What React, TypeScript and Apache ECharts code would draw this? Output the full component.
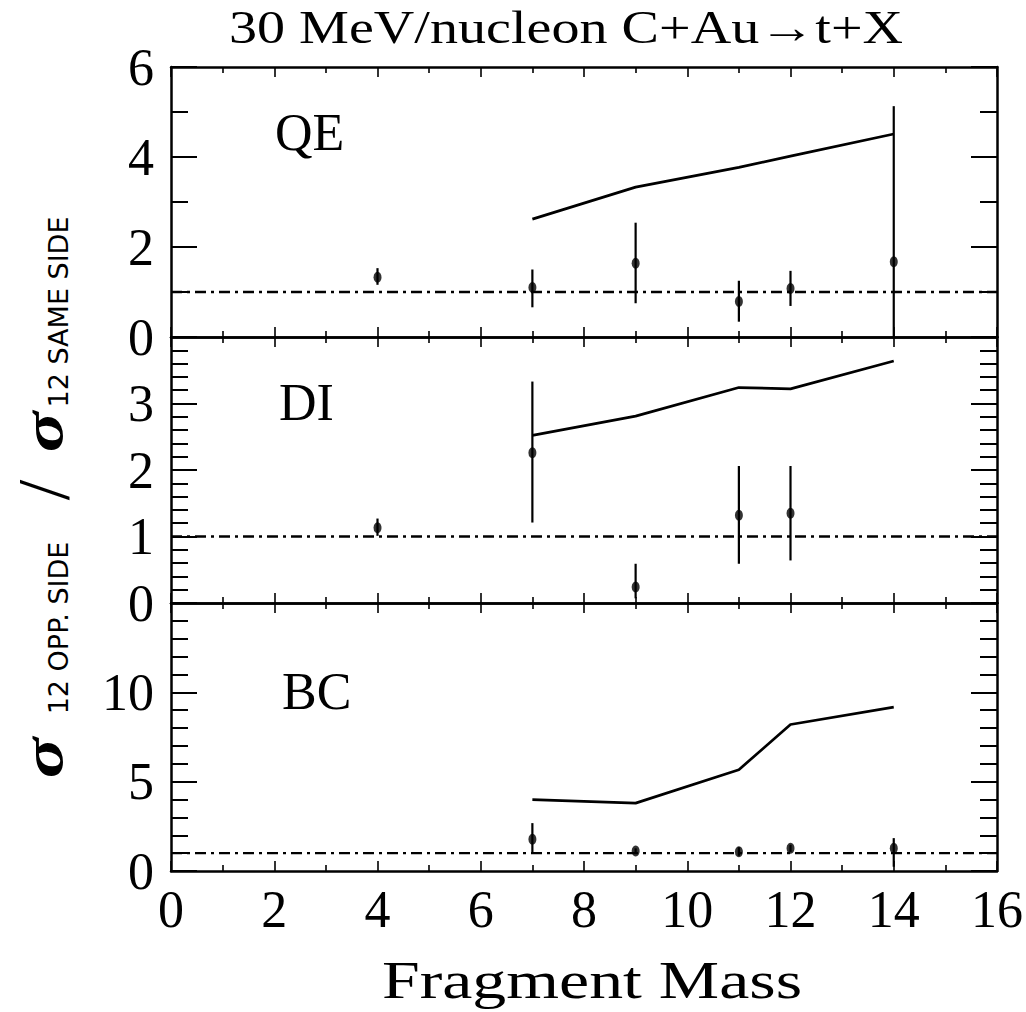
import React, { useEffect, useRef } from 'react';
import * as echarts from 'echarts';

// ---------- data ----------
const massRange = [0, 16];
const refMass = [0, 16];
const refRatio = [1, 1];

const qeMass = [4, 7, 9, 11, 12, 14];
const qeRatio = [1.33, 1.1, 1.64, 0.79, 1.08, 1.67];
const qeLow = [1.16, 0.66, 0.75, 0.34, 0.69, 0.0];
const qeHigh = [1.53, 1.5, 2.54, 1.25, 1.47, 5.13];

const diMass = [4, 7, 9, 11, 12];
const diRatio = [1.13, 2.26, 0.24, 1.32, 1.35];
const diLow = [1.01, 1.21, 0.07, 0.59, 0.64];
const diHigh = [1.27, 3.33, 0.59, 2.06, 2.06];

const bcMass = [7, 9, 11, 12, 14];
const bcRatio = [1.78, 1.12, 1.08, 1.27, 1.27];
const bcLow = [0.99, 0.97, 0.85, 1.07, 0.24];
const bcHigh = [2.68, 1.27, 1.33, 1.47, 1.84];

const theoryMass = [7, 9, 11, 12, 14];
const qeTheory = [2.62, 3.33, 3.77, 4.02, 4.51];
const diTheory = [2.52, 2.81, 3.24, 3.22, 3.64];
const bcTheory = [3.99, 3.8, 5.67, 8.2, 9.17];

const panelNames = ['QE', 'DI', 'BC'];
const panelYMax = [6, 4, 15];
const panelYInterval = [2, 1, 5];
const panelYMinorSplit = [2, 5, 5];
const panelShowMaxLabel = [true, false, false];
const xInterval = 2;
const xMinorSplit = 2;

const titleText = '30 MeV/nucleon C+Au\u2192t+X';
const xTitle = 'Fragment Mass';
const sigma = '\u03C3';
const oppSub = '12 OPP. SIDE';
const sameSub = '12 SAME SIDE';

// ---------- layout ----------
const GRID_LEFT = 171;
const GRID_RIGHT = 29;
const gridTops = [67, 337, 603];
const gridHeights = [270, 266, 268];
const labelTops = [132, 402, 691];
const labelLefts = [275, 279, 282];

const BLACK = '#000';
const SERIF = '"Liberation Serif", "DejaVu Serif", serif';
const SANS = '"DejaVu Sans", "Liberation Sans", sans-serif';

function zip(a: number[], b: number[]) {
  return a.map((v, i) => [v, b[i]]);
}
function zip3(a: number[], b: number[], c: number[]) {
  return a.map((v, i) => [v, b[i], c[i]]);
}

const panels = [
  { mass: qeMass, ratio: qeRatio, low: qeLow, high: qeHigh, theory: qeTheory },
  { mass: diMass, ratio: diRatio, low: diLow, high: diHigh, theory: diTheory },
  { mass: bcMass, ratio: bcRatio, low: bcLow, high: bcHigh, theory: bcTheory },
];

function buildOption() {
  const grids: any[] = [];
  const xAxes: any[] = [];
  const yAxes: any[] = [];
  const series: any[] = [];

  panels.forEach((p, i) => {
    grids.push({
      left: GRID_LEFT,
      right: GRID_RIGHT,
      top: gridTops[i],
      height: gridHeights[i],
      containLabel: false,
      outerBoundsMode: 'none',
    });
    const baseX = {
      type: 'value',
      gridIndex: i,
      min: massRange[0],
      max: massRange[1],
      interval: xInterval,
      splitLine: { show: false },
      axisLine: { show: true, onZero: false, lineStyle: { color: BLACK, width: 2.5 } },
      axisTick: { show: true, inside: true, length: 10, lineStyle: { color: BLACK, width: 1.6 } },
      minorTick: { show: true, splitNumber: xMinorSplit, length: 6, lineStyle: { color: BLACK, width: 1.6 } },
    };
    xAxes.push({
      ...baseX,
      position: 'bottom',
      axisLabel: {
        show: i === 2,
        color: BLACK,
        fontFamily: SERIF,
        fontSize: 52,
        margin: 12,
      },
    });
    xAxes.push({ ...baseX, position: 'top', axisLabel: { show: false } });

    const baseY = {
      type: 'value',
      gridIndex: i,
      min: 0,
      max: panelYMax[i],
      interval: panelYInterval[i],
      splitLine: { show: false },
      axisLine: { show: true, onZero: false, lineStyle: { color: BLACK, width: 2.5 } },
      axisTick: { show: true, inside: true, length: 26, lineStyle: { color: BLACK, width: 2 } },
      minorTick: { show: true, splitNumber: panelYMinorSplit[i], length: 17, lineStyle: { color: BLACK, width: 2 } },
    };
    yAxes.push({
      ...baseY,
      position: 'left',
      axisLabel: {
        show: true,
        color: BLACK,
        fontFamily: SERIF,
        fontSize: 52,
        margin: 17,
        showMaxLabel: panelShowMaxLabel[i],
        showMinLabel: true,
      },
    });
    yAxes.push({ ...baseY, position: 'right', axisLabel: { show: false } });

    const xi = 2 * i;
    const yi = 2 * i;

    series.push({
      type: 'line',
      xAxisIndex: xi,
      yAxisIndex: yi,
      data: zip(refMass, refRatio),
      symbol: 'none',
      lineStyle: { color: BLACK, width: 2.3, type: [11, 5, 3, 5] },
      z: 2,
    });
    series.push({
      type: 'line',
      xAxisIndex: xi,
      yAxisIndex: yi,
      data: zip(theoryMass, p.theory),
      symbol: 'none',
      lineStyle: { color: BLACK, width: 2.7 },
      z: 3,
    });
    series.push({
      type: 'custom',
      xAxisIndex: xi,
      yAxisIndex: yi,
      data: zip3(p.mass, p.low, p.high),
      encode: { x: 0, y: [1, 2] },
      renderItem: (params: any, api: any) => {
        const x = api.value(0);
        const a = api.coord([x, api.value(1)]);
        const b = api.coord([x, api.value(2)]);
        return {
          type: 'line',
          shape: { x1: a[0], y1: a[1], x2: b[0], y2: b[1] },
          style: { stroke: BLACK, lineWidth: 2.2 },
        };
      },
      z: 4,
    });
    series.push({
      type: 'scatter',
      xAxisIndex: xi,
      yAxisIndex: yi,
      data: zip(p.mass, p.ratio),
      symbol: 'circle',
      symbolSize: [8, 11],
      itemStyle: { color: BLACK },
      z: 5,
    });
  });

  const txt = (text: string, x: number, y: number, font: any, extra: any = {}, align = 'center') => ({
    type: 'text',
    x,
    y,
    ...extra,
    style: {
      text,
      fill: BLACK,
      ...font,
      align,
      verticalAlign: 'middle',
      textAlign: align,
      textVerticalAlign: 'middle',
    },
  });

  const graphic: any[] = [
    txt(titleText, 566, 27, { fontFamily: SERIF, fontSize: 46 }, { scaleX: 1.22 }),
    txt(xTitle, 592, 980, { fontFamily: SERIF, fontSize: 53 }, { scaleX: 1.28 }),
  ];

  panelNames.forEach((name, i) => {
    graphic.push(txt(name, labelLefts[i], labelTops[i], { fontFamily: SERIF, fontSize: 52 }, {}, 'left'));
  });

  const rotated = { rotation: Math.PI / 2 };
  const rotatedWide = { rotation: Math.PI / 2, scaleX: 1.3 };
  graphic.push(txt(sigma, 43, 758, { fontFamily: SERIF, fontStyle: 'italic', fontWeight: 'bold', fontSize: 58 }, rotatedWide));
  graphic.push(txt(oppSub, 58, 628, { fontFamily: SANS, fontSize: 27 }, rotated));
  graphic.push(txt('/', 44, 490, { fontFamily: SERIF, fontSize: 74 }, rotated));
  graphic.push(txt(sigma, 43, 432, { fontFamily: SERIF, fontStyle: 'italic', fontWeight: 'bold', fontSize: 58 }, rotatedWide));
  graphic.push(txt(sameSub, 58, 312, { fontFamily: SANS, fontSize: 27 }, rotated));

  return {
    animation: false,
    backgroundColor: '#fff',
    grid: grids,
    xAxis: xAxes,
    yAxis: yAxes,
    series,
    graphic,
  };
}

export default function App() {
  const ref = useRef<HTMLDivElement>(null);
  useEffect(() => {
    if (!ref.current) return;
    const chart = echarts.init(ref.current, undefined, { renderer: 'svg' });
    chart.setOption(buildOption() as any);
    return () => chart.dispose();
  }, []);
  return (
    <div
      ref={ref}
      style={{ position: 'fixed', left: 0, top: 0, width: 1026, height: 1012, background: '#fff' }}
    />
  );
}
